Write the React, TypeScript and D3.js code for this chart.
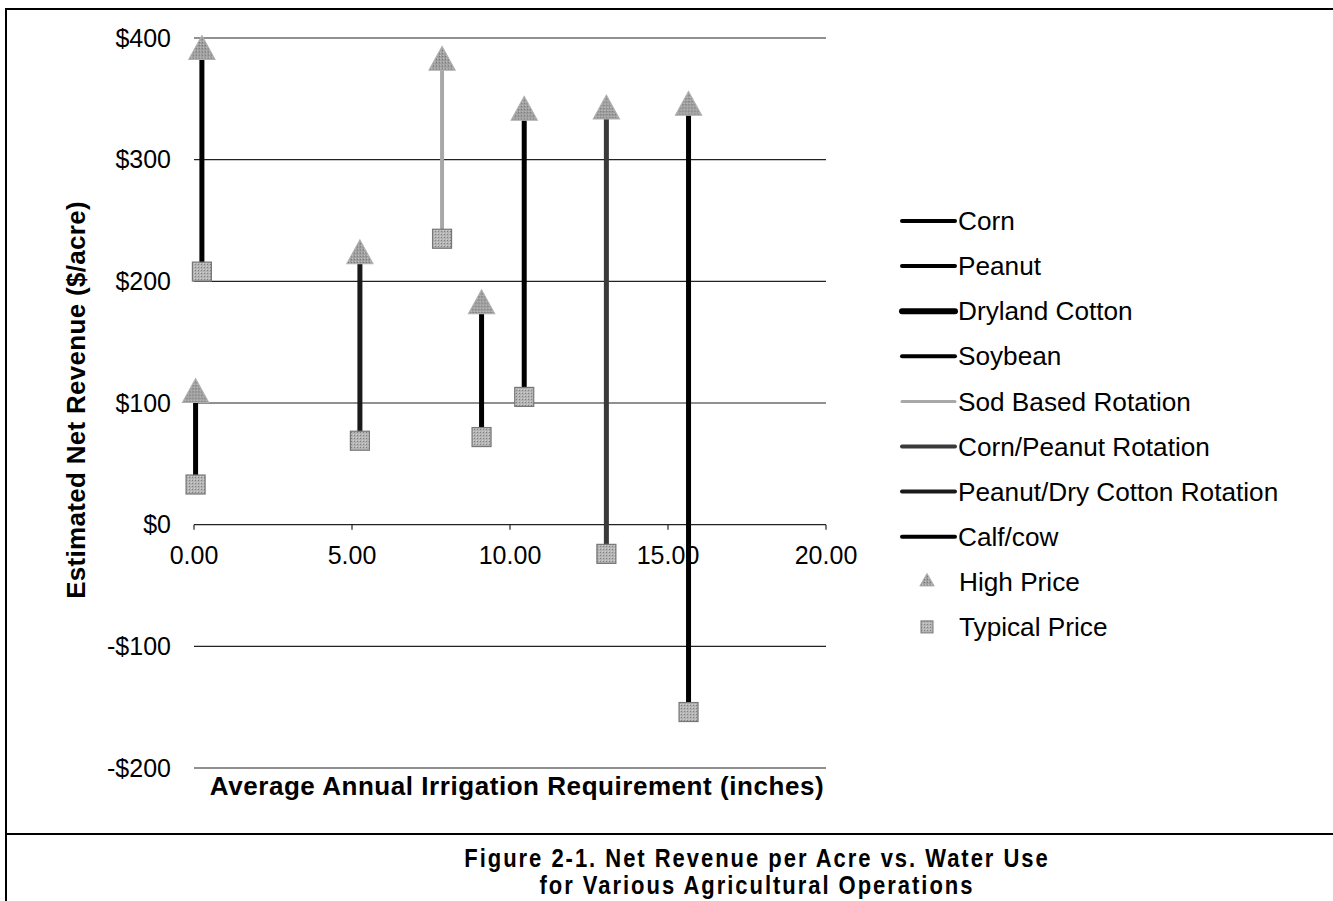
import React from "react";
import * as d3 from "d3";

const seriesNames = [
  "Corn",
  "Peanut",
  "Dryland Cotton",
  "Soybean",
  "Sod Based Rotation",
  "Corn/Peanut Rotation",
  "Peanut/Dry Cotton Rotation",
  "Calf/cow",
];
const irrigation = [15.65, 10.45, 0.25, 9.1, 7.85, 13.05, 5.25, 0.05];
const highPrice = [343, 339, 389, 180, 380, 340, 221, 107];
const typicalPrice = [-154, 105, 208, 72, 235, -24, 69, 33];
const yTicks = [-200, -100, 0, 100, 200, 300, 400];
const xTicks = [0, 5, 10, 15, 20];

const lineColors = ["#000", "#000", "#000", "#000", "#a8a8a8", "#3a3a3a", "#1a1a1a", "#000"];
const lineWidths = [5, 5, 5, 5, 4, 5, 5, 5];
const legendWidths = [4, 4, 6, 4, 3, 4, 4, 4];

const W = 1333;
const H = 901;
const FONT = "Liberation Sans, Arial, sans-serif";

export default function App() {
  const x = d3.scaleLinear().domain([0, 20]).range([194, 826]);
  const y = d3.scaleLinear().domain([-200, 400]).range([768, 38]);
  const fmtY = (v: number) => (v < 0 ? "-$" + Math.abs(v) : "$" + v);
  const tri = d3.symbol().type(d3.symbolTriangle).size(300);
  const legendY = (i: number) => 221 + i * 45.1;
  const titleScale = 0.88;

  return (
    <svg
      width={W}
      height={H}
      style={{ position: "absolute", left: 0, top: 0, background: "#fff" }}
      fontFamily={FONT}
    >
      <defs>
        <pattern id="dither" width="3" height="3" patternUnits="userSpaceOnUse">
          <rect width="3" height="3" fill="#b4b4b4" />
          <rect width="1" height="1" fill="#808080" />
          <rect x="2" y="2" width="1" height="1" fill="#d0d0d0" />
        </pattern>
        <pattern id="dither2" width="3" height="3" patternUnits="userSpaceOnUse">
          <rect width="3" height="3" fill="#a0a0a0" />
          <rect width="1" height="1" fill="#707070" />
          <rect x="1" y="2" width="1" height="1" fill="#c8c8c8" />
        </pattern>
      </defs>
      {/* frame */}
      <line x1={6} x2={6} y1={8} y2={H} stroke="#000" strokeWidth={2} />
      <line x1={6} x2={W} y1={9} y2={9} stroke="#000" strokeWidth={2} />
      <line x1={6} x2={W} y1={834} y2={834} stroke="#000" strokeWidth={2} />

      {/* gridlines */}
      {yTicks.map((t) => (
        <g key={t}>
          <line x1={x(0)} x2={x(20)} y1={y(t)} y2={y(t)} stroke="#222" strokeWidth={1.2} />
          <text x={171} y={y(t)} dy="0.35em" textAnchor="end" fontSize={25} fill="#000">
            {fmtY(t)}
          </text>
        </g>
      ))}
      {/* x ticks */}
      {xTicks.map((t) => (
        <g key={t}>
          <line x1={x(t)} x2={x(t)} y1={y(0)} y2={y(0) + 5} stroke="#222" strokeWidth={1.2} />
          <text x={x(t)} y={564} textAnchor="middle" fontSize={25} fill="#000">
            {t.toFixed(2)}
          </text>
        </g>
      ))}

      {/* range lines */}
      {seriesNames.map((s, i) => (
        <line
          key={s}
          x1={x(irrigation[i])}
          x2={x(irrigation[i])}
          y1={y(typicalPrice[i])}
          y2={y(highPrice[i]) + 8}
          stroke={lineColors[i]}
          strokeWidth={lineWidths[i]}
        />
      ))}
      {/* markers */}
      {seriesNames.map((s, i) => (
        <g key={s + "m"}>
          <path
            d={tri() as string}
            transform={`translate(${x(irrigation[i])},${y(highPrice[i])}) scale(1,1.05)`}
            fill="url(#dither2)"
            stroke="#b0b0b0"
            strokeWidth={1}
          />
          <rect
            x={x(irrigation[i]) - 9.5}
            y={y(typicalPrice[i]) - 9.5}
            width={19}
            height={19}
            fill="url(#dither)"
            stroke="#777"
            strokeWidth={1.2}
          />
        </g>
      ))}

      {/* axis titles */}
      <text
        transform={`translate(85,${(y(400) + y(-200)) / 2 - 3}) rotate(-90)`}
        textAnchor="middle"
        fontSize={26}
        fontWeight="bold"
        letterSpacing={0.3}
      >
        Estimated Net Revenue ($/acre)
      </text>
      <text x={517} y={795} textAnchor="middle" fontSize={26} fontWeight="bold" letterSpacing={0.55}>
        Average Annual Irrigation Requirement (inches)
      </text>

      {/* legend */}
      {seriesNames.map((s, i) => (
        <g key={s + "l"}>
          <line
            x1={902}
            x2={955}
            y1={legendY(i)}
            y2={legendY(i)}
            stroke={lineColors[i]}
            strokeWidth={legendWidths[i]}
            strokeLinecap="round"
          />
          <text x={958} y={legendY(i)} dy="0.35em" fontSize={26.2}>
            {s}
          </text>
        </g>
      ))}
      <path
        d={d3.symbol().type(d3.symbolTriangle).size(90)() as string}
        transform={`translate(927,${legendY(8)})`}
        fill="url(#dither2)"
        stroke="#b0b0b0"
      />
      <text x={959} y={legendY(8)} dy="0.35em" fontSize={26.2}>
        High Price
      </text>
      <rect
        x={921}
        y={legendY(9) - 6}
        width={12}
        height={12}
        fill="url(#dither)"
        stroke="#777"
      />
      <text x={959} y={legendY(9)} dy="0.35em" fontSize={26.2}>
        Typical Price
      </text>

      {/* figure title */}
      <g transform={`scale(${titleScale},1)`}>
        <text
          x={757 / titleScale}
          y={867}
          textAnchor="middle"
          fontSize={25}
          fontWeight="bold"
          letterSpacing={2.25}
        >
          Figure 2-1. Net Revenue per Acre vs. Water Use
        </text>
        <text
          x={757 / titleScale}
          y={894}
          textAnchor="middle"
          fontSize={25}
          fontWeight="bold"
          letterSpacing={2.25}
        >
          for Various Agricultural Operations
        </text>
      </g>
    </svg>
  );
}
